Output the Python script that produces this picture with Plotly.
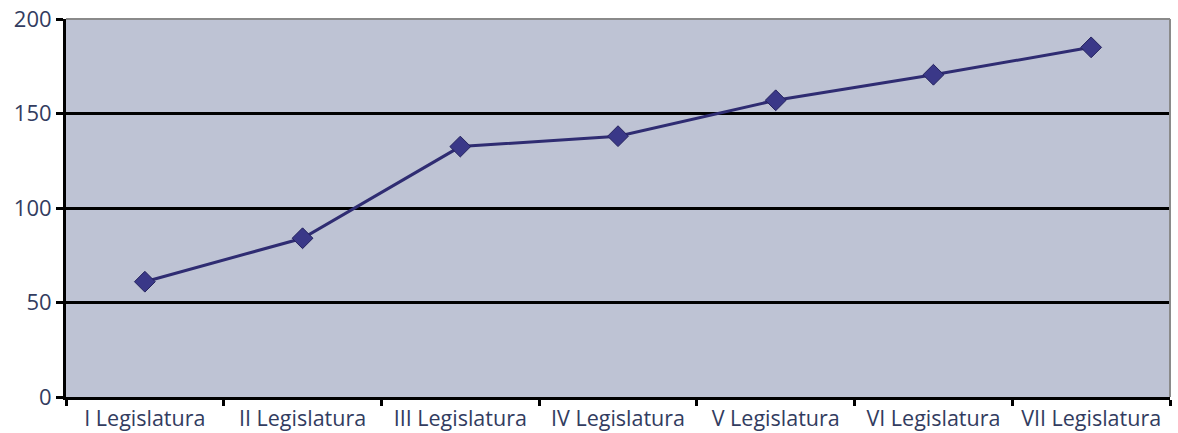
import plotly.graph_objects as go

categories = ["I Legislatura", "II Legislatura", "III Legislatura", "IV Legislatura",
              "V Legislatura", "VI Legislatura", "VII Legislatura"]
values = [61, 84, 132.5, 138, 157, 170.5, 185]
y_ticks = [0, 50, 100, 150, 200]

fig = go.Figure()
fig.add_trace(go.Scatter(
    x=categories, y=values, mode="lines+markers",
    line=dict(color="#2f2c72", width=3),
    marker=dict(symbol="diamond", size=16, color="#3a3888",
                line=dict(color="#25235e", width=1)),
    showlegend=False, cliponaxis=False,
))

font_color = "#323c60"
fig.update_layout(
    width=1178, height=433,
    margin=dict(l=66, r=8, t=19, b=36),
    paper_bgcolor="white",
    plot_bgcolor="#bec3d4",
    font=dict(family="Open Sans", color=font_color),
    xaxis=dict(
        type="category", range=[-0.5, 6.5], tickson="boundaries",
        ticks="outside", ticklen=6, tickwidth=2.5, tickcolor="black",
        showline=True, linecolor="black", linewidth=3,
        showgrid=False, tickfont=dict(size=21.5, color=font_color),
        automargin=False,
    ),
    yaxis=dict(
        range=[0, 200], tickvals=y_ticks,
        ticks="outside", ticklen=7, tickwidth=2.5, tickcolor="black",
        showline=True, linecolor="black", linewidth=3,
        showgrid=True, gridcolor="black", gridwidth=2.5,
        tickfont=dict(size=22, color=font_color), zeroline=False,
        automargin=False,
    ),
)
# grey border on top and right of plot area
fig.add_shape(type="line", xref="paper", yref="paper", x0=0, x1=1, y0=1, y1=1,
              line=dict(color="#8a8a8a", width=2))
fig.add_shape(type="line", xref="paper", yref="paper", x0=1, x1=1, y0=0, y1=1,
              line=dict(color="#8a8a8a", width=2))

fig.write_html("out.html", config={"displayModeBar": False},
               post_script="document.body.style.margin='0';document.body.style.overflow='hidden';")
